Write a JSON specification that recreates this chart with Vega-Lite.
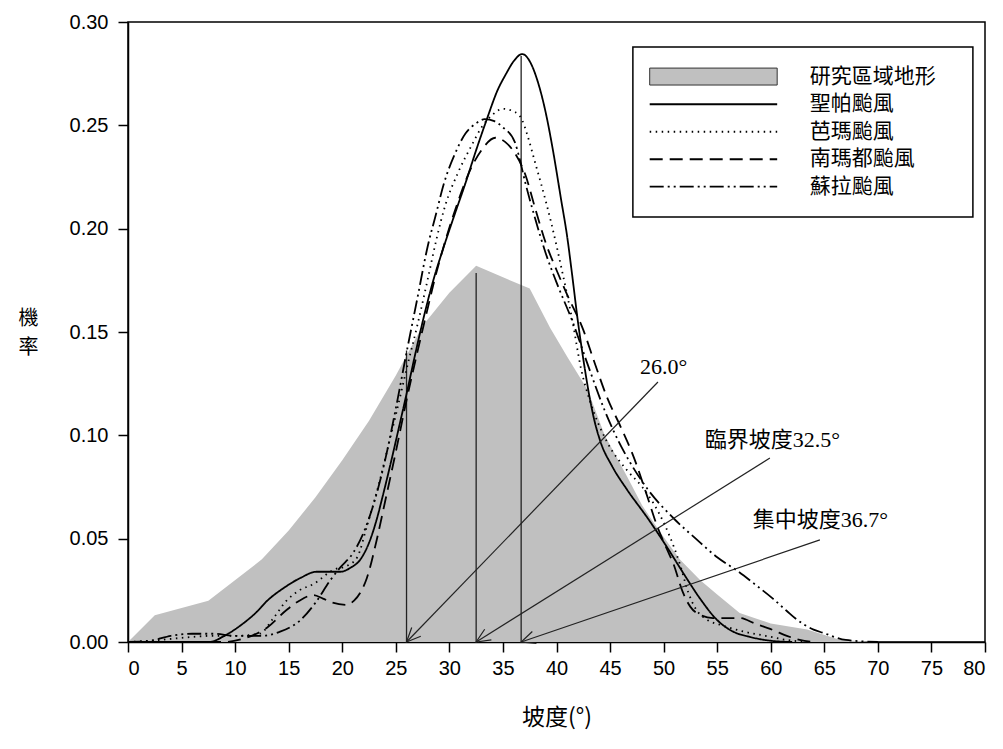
{
  "$schema": "https://vega.github.io/schema/vega-lite/v6.json",
  "width": 857,
  "height": 620,
  "autosize": {"type": "none"},
  "padding": {"left": 128, "top": 22, "right": 18, "bottom": 107},
  "background": "white",
  "config": {
    "view": {"stroke": "black", "strokeWidth": 1.5},
    "axis": {
      "domainColor": "black", "domainWidth": 1.5, "tickColor": "black", "tickWidth": 1.5,
      "tickSize": 10, "labelColor": "black", "labelFont": "Liberation Sans", "labelFontSize": 20,
      "titleColor": "black", "titleFont": "Noto Sans CJK TC", "titleFontWeight": "normal", "grid": false
    }
  },
  "datasets": {
    "terrain": [
      {"x": 0, "y": 0}, {"x": 2.5, "y": 0.013}, {"x": 7.5, "y": 0.020}, {"x": 12.5, "y": 0.040},
      {"x": 15, "y": 0.054}, {"x": 17.5, "y": 0.070}, {"x": 20, "y": 0.088}, {"x": 22.5, "y": 0.107},
      {"x": 25, "y": 0.129}, {"x": 27.5, "y": 0.153}, {"x": 30, "y": 0.169}, {"x": 32.5, "y": 0.182},
      {"x": 37.5, "y": 0.171}, {"x": 39.4, "y": 0.152}, {"x": 41, "y": 0.138}, {"x": 42.9, "y": 0.122},
      {"x": 44.5, "y": 0.100}, {"x": 46.6, "y": 0.080}, {"x": 48, "y": 0.066}, {"x": 49.7, "y": 0.053},
      {"x": 51.5, "y": 0.040}, {"x": 53.4, "y": 0.030}, {"x": 55, "y": 0.023}, {"x": 57.1, "y": 0.014},
      {"x": 60, "y": 0.009}, {"x": 63.4, "y": 0.006}, {"x": 66.5, "y": 0.001}, {"x": 70, "y": 0}, {"x": 80, "y": 0}
    ],
    "curves": [
      {"s": "聖帕颱風", "x": 0, "y": 0}, {"s": "聖帕颱風", "x": 5, "y": 0}, {"s": "聖帕颱風", "x": 7.6, "y": 0},
      {"s": "聖帕颱風", "x": 9, "y": 0.003}, {"s": "聖帕颱風", "x": 10.5, "y": 0.008}, {"s": "聖帕颱風", "x": 12, "y": 0.0145},
      {"s": "聖帕颱風", "x": 13, "y": 0.020}, {"s": "聖帕颱風", "x": 14.5, "y": 0.026}, {"s": "聖帕颱風", "x": 16.1, "y": 0.031},
      {"s": "聖帕颱風", "x": 17.6, "y": 0.034}, {"s": "聖帕颱風", "x": 19.8, "y": 0.034}, {"s": "聖帕颱風", "x": 20.8, "y": 0.036},
      {"s": "聖帕颱風", "x": 21.7, "y": 0.040}, {"s": "聖帕颱風", "x": 22.5, "y": 0.048}, {"s": "聖帕颱風", "x": 23.2, "y": 0.059},
      {"s": "聖帕颱風", "x": 23.7, "y": 0.069}, {"s": "聖帕颱風", "x": 24.5, "y": 0.086}, {"s": "聖帕颱風", "x": 25.3, "y": 0.104},
      {"s": "聖帕颱風", "x": 26, "y": 0.120}, {"s": "聖帕颱風", "x": 26.8, "y": 0.139}, {"s": "聖帕颱風", "x": 27.6, "y": 0.157},
      {"s": "聖帕颱風", "x": 28.5, "y": 0.175}, {"s": "聖帕颱風", "x": 29.4, "y": 0.190}, {"s": "聖帕颱風", "x": 30.5, "y": 0.207},
      {"s": "聖帕颱風", "x": 31.5, "y": 0.222}, {"s": "聖帕颱風", "x": 32.5, "y": 0.238}, {"s": "聖帕颱風", "x": 33.5, "y": 0.253},
      {"s": "聖帕颱風", "x": 34.5, "y": 0.267}, {"s": "聖帕颱風", "x": 35.3, "y": 0.275}, {"s": "聖帕颱風", "x": 36, "y": 0.281},
      {"s": "聖帕颱風", "x": 36.8, "y": 0.2845}, {"s": "聖帕颱風", "x": 37.5, "y": 0.281}, {"s": "聖帕颱風", "x": 38.2, "y": 0.272},
      {"s": "聖帕颱風", "x": 39, "y": 0.256}, {"s": "聖帕颱風", "x": 39.7, "y": 0.237}, {"s": "聖帕颱風", "x": 40.4, "y": 0.215},
      {"s": "聖帕颱風", "x": 41, "y": 0.196}, {"s": "聖帕颱風", "x": 41.5, "y": 0.176}, {"s": "聖帕颱風", "x": 42, "y": 0.155},
      {"s": "聖帕颱風", "x": 42.5, "y": 0.137}, {"s": "聖帕颱風", "x": 43, "y": 0.121}, {"s": "聖帕颱風", "x": 43.5, "y": 0.108},
      {"s": "聖帕颱風", "x": 44.1, "y": 0.097}, {"s": "聖帕颱風", "x": 45.2, "y": 0.085}, {"s": "聖帕颱風", "x": 46.6, "y": 0.0736},
      {"s": "聖帕颱風", "x": 48.5, "y": 0.060}, {"s": "聖帕颱風", "x": 50.3, "y": 0.046}, {"s": "聖帕颱風", "x": 52, "y": 0.032},
      {"s": "聖帕颱風", "x": 53.4, "y": 0.021}, {"s": "聖帕颱風", "x": 55, "y": 0.0106}, {"s": "聖帕颱風", "x": 56.5, "y": 0.005},
      {"s": "聖帕颱風", "x": 58.1, "y": 0.0024}, {"s": "聖帕颱風", "x": 60, "y": 0.0006}, {"s": "聖帕颱風", "x": 62, "y": 0},

      {"s": "芭瑪颱風", "x": 0, "y": 0}, {"s": "芭瑪颱風", "x": 3, "y": 0.001}, {"s": "芭瑪颱風", "x": 5, "y": 0.002},
      {"s": "芭瑪颱風", "x": 8, "y": 0.003}, {"s": "芭瑪颱風", "x": 10, "y": 0.003}, {"s": "芭瑪颱風", "x": 12.3, "y": 0.004},
      {"s": "芭瑪颱風", "x": 13.5, "y": 0.011}, {"s": "芭瑪颱風", "x": 14.8, "y": 0.020}, {"s": "芭瑪颱風", "x": 16, "y": 0.025},
      {"s": "芭瑪颱風", "x": 17.3, "y": 0.028}, {"s": "芭瑪颱風", "x": 19.2, "y": 0.035}, {"s": "芭瑪颱風", "x": 20.5, "y": 0.037},
      {"s": "芭瑪颱風", "x": 21.4, "y": 0.041}, {"s": "芭瑪颱風", "x": 22.3, "y": 0.056}, {"s": "芭瑪颱風", "x": 23.5, "y": 0.078},
      {"s": "芭瑪颱風", "x": 24.3, "y": 0.095}, {"s": "芭瑪颱風", "x": 25.1, "y": 0.112}, {"s": "芭瑪颱風", "x": 26, "y": 0.132},
      {"s": "芭瑪颱風", "x": 27, "y": 0.153}, {"s": "芭瑪颱風", "x": 28, "y": 0.176}, {"s": "芭瑪颱風", "x": 28.8, "y": 0.195},
      {"s": "芭瑪颱風", "x": 29.6, "y": 0.211}, {"s": "芭瑪颱風", "x": 30.8, "y": 0.227}, {"s": "芭瑪颱風", "x": 32.1, "y": 0.2405},
      {"s": "芭瑪颱風", "x": 33, "y": 0.249}, {"s": "芭瑪颱風", "x": 34, "y": 0.255}, {"s": "芭瑪颱風", "x": 35, "y": 0.258},
      {"s": "芭瑪颱風", "x": 36.1, "y": 0.2565}, {"s": "芭瑪颱風", "x": 36.8, "y": 0.2525}, {"s": "芭瑪颱風", "x": 37.3, "y": 0.245},
      {"s": "芭瑪颱風", "x": 38, "y": 0.232}, {"s": "芭瑪颱風", "x": 38.6, "y": 0.221}, {"s": "芭瑪颱風", "x": 39.5, "y": 0.203},
      {"s": "芭瑪颱風", "x": 40.5, "y": 0.180}, {"s": "芭瑪颱風", "x": 41.5, "y": 0.155}, {"s": "芭瑪颱風", "x": 42.3, "y": 0.132},
      {"s": "芭瑪颱風", "x": 43.1, "y": 0.117}, {"s": "芭瑪颱風", "x": 44.7, "y": 0.097}, {"s": "芭瑪颱風", "x": 46.6, "y": 0.083},
      {"s": "芭瑪颱風", "x": 48, "y": 0.075}, {"s": "芭瑪颱風", "x": 49.5, "y": 0.063}, {"s": "芭瑪颱風", "x": 50.5, "y": 0.052},
      {"s": "芭瑪颱風", "x": 51.5, "y": 0.038}, {"s": "芭瑪颱風", "x": 52.3, "y": 0.024}, {"s": "芭瑪颱風", "x": 53, "y": 0.016},
      {"s": "芭瑪颱風", "x": 54, "y": 0.011}, {"s": "芭瑪颱風", "x": 55.5, "y": 0.008}, {"s": "芭瑪颱風", "x": 57.5, "y": 0.005},
      {"s": "芭瑪颱風", "x": 59.5, "y": 0.003}, {"s": "芭瑪颱風", "x": 61.5, "y": 0.001}, {"s": "芭瑪颱風", "x": 63.5, "y": 0},

      {"s": "南瑪都颱風", "x": 0, "y": 0}, {"s": "南瑪都颱風", "x": 9, "y": 0}, {"s": "南瑪都颱風", "x": 11, "y": 0.002},
      {"s": "南瑪都颱風", "x": 13, "y": 0.007}, {"s": "南瑪都颱風", "x": 14.8, "y": 0.0155}, {"s": "南瑪都颱風", "x": 16, "y": 0.020},
      {"s": "南瑪都颱風", "x": 17.3, "y": 0.0227}, {"s": "南瑪都颱風", "x": 18.2, "y": 0.021}, {"s": "南瑪都颱風", "x": 19.1, "y": 0.019},
      {"s": "南瑪都颱風", "x": 20.4, "y": 0.018}, {"s": "南瑪都颱風", "x": 21.1, "y": 0.020}, {"s": "南瑪都颱風", "x": 21.7, "y": 0.024},
      {"s": "南瑪都颱風", "x": 22.3, "y": 0.031}, {"s": "南瑪都颱風", "x": 23.2, "y": 0.049}, {"s": "南瑪都颱風", "x": 24, "y": 0.068},
      {"s": "南瑪都颱風", "x": 25, "y": 0.092}, {"s": "南瑪都颱風", "x": 26, "y": 0.117}, {"s": "南瑪都颱風", "x": 27, "y": 0.140},
      {"s": "南瑪都颱風", "x": 28, "y": 0.162}, {"s": "南瑪都颱風", "x": 28.6, "y": 0.175}, {"s": "南瑪都颱風", "x": 29.5, "y": 0.192},
      {"s": "南瑪都颱風", "x": 30.8, "y": 0.213}, {"s": "南瑪都颱風", "x": 32, "y": 0.229}, {"s": "南瑪都颱風", "x": 33, "y": 0.238},
      {"s": "南瑪都颱風", "x": 34.3, "y": 0.244}, {"s": "南瑪都颱風", "x": 35.2, "y": 0.242}, {"s": "南瑪都颱風", "x": 36.1, "y": 0.2366},
      {"s": "南瑪都颱風", "x": 37.1, "y": 0.226}, {"s": "南瑪都颱風", "x": 38, "y": 0.210}, {"s": "南瑪都颱風", "x": 39, "y": 0.193},
      {"s": "南瑪都颱風", "x": 40, "y": 0.180}, {"s": "南瑪都颱風", "x": 41, "y": 0.168}, {"s": "南瑪都颱風", "x": 42.5, "y": 0.151},
      {"s": "南瑪都颱風", "x": 43.5, "y": 0.136}, {"s": "南瑪都颱風", "x": 44.7, "y": 0.1186}, {"s": "南瑪都颱風", "x": 46, "y": 0.104},
      {"s": "南瑪都颱風", "x": 47.2, "y": 0.0896}, {"s": "南瑪都颱風", "x": 48.5, "y": 0.070}, {"s": "南瑪都颱風", "x": 49.4, "y": 0.056},
      {"s": "南瑪都颱風", "x": 50.3, "y": 0.045}, {"s": "南瑪都颱風", "x": 50.9, "y": 0.038}, {"s": "南瑪都颱風", "x": 51.8, "y": 0.024},
      {"s": "南瑪都颱風", "x": 52.5, "y": 0.017}, {"s": "南瑪都颱風", "x": 53.1, "y": 0.014}, {"s": "南瑪都颱風", "x": 54.6, "y": 0.0116},
      {"s": "南瑪都颱風", "x": 57.1, "y": 0.0116}, {"s": "南瑪都颱風", "x": 58.5, "y": 0.009}, {"s": "南瑪都颱風", "x": 60.2, "y": 0.0058},
      {"s": "南瑪都颱風", "x": 61.5, "y": 0.003}, {"s": "南瑪都颱風", "x": 62.7, "y": 0.001}, {"s": "南瑪都颱風", "x": 64, "y": 0},

      {"s": "蘇拉颱風", "x": 0, "y": 0}, {"s": "蘇拉颱風", "x": 2, "y": 0.0005}, {"s": "蘇拉颱風", "x": 4, "y": 0.003},
      {"s": "蘇拉颱風", "x": 6, "y": 0.004}, {"s": "蘇拉颱風", "x": 8, "y": 0.004}, {"s": "蘇拉颱風", "x": 10, "y": 0.003},
      {"s": "蘇拉颱風", "x": 12.5, "y": 0.003}, {"s": "蘇拉颱風", "x": 14.2, "y": 0.005}, {"s": "蘇拉颱風", "x": 16.1, "y": 0.0106},
      {"s": "蘇拉颱風", "x": 17.5, "y": 0.019}, {"s": "蘇拉颱風", "x": 18.9, "y": 0.030}, {"s": "蘇拉颱風", "x": 19.8, "y": 0.036},
      {"s": "蘇拉颱風", "x": 21, "y": 0.043}, {"s": "蘇拉颱風", "x": 22, "y": 0.053}, {"s": "蘇拉颱風", "x": 23, "y": 0.068},
      {"s": "蘇拉颱風", "x": 24, "y": 0.088}, {"s": "蘇拉颱風", "x": 25, "y": 0.113}, {"s": "蘇拉颱風", "x": 26, "y": 0.140},
      {"s": "蘇拉颱風", "x": 27, "y": 0.166}, {"s": "蘇拉颱風", "x": 28, "y": 0.192}, {"s": "蘇拉颱風", "x": 28.7, "y": 0.206},
      {"s": "蘇拉颱風", "x": 29.5, "y": 0.222}, {"s": "蘇拉颱風", "x": 30.5, "y": 0.236}, {"s": "蘇拉颱風", "x": 31.5, "y": 0.246},
      {"s": "蘇拉颱風", "x": 32.5, "y": 0.251}, {"s": "蘇拉颱風", "x": 33.3, "y": 0.253}, {"s": "蘇拉颱風", "x": 34.2, "y": 0.252},
      {"s": "蘇拉颱風", "x": 35, "y": 0.249}, {"s": "蘇拉颱風", "x": 36.1, "y": 0.242}, {"s": "蘇拉颱風", "x": 36.5, "y": 0.235},
      {"s": "蘇拉颱風", "x": 37.1, "y": 0.222}, {"s": "蘇拉颱風", "x": 38, "y": 0.205}, {"s": "蘇拉颱風", "x": 39, "y": 0.188},
      {"s": "蘇拉颱風", "x": 40, "y": 0.174}, {"s": "蘇拉颱風", "x": 41.5, "y": 0.155}, {"s": "蘇拉颱風", "x": 43, "y": 0.133},
      {"s": "蘇拉颱風", "x": 44.5, "y": 0.112}, {"s": "蘇拉颱風", "x": 46, "y": 0.095}, {"s": "蘇拉颱風", "x": 46.9, "y": 0.0866},
      {"s": "蘇拉颱風", "x": 48.5, "y": 0.074}, {"s": "蘇拉颱風", "x": 50.9, "y": 0.060}, {"s": "蘇拉颱風", "x": 53, "y": 0.050},
      {"s": "蘇拉颱風", "x": 55, "y": 0.041}, {"s": "蘇拉颱風", "x": 57, "y": 0.034}, {"s": "蘇拉颱風", "x": 58.5, "y": 0.028},
      {"s": "蘇拉颱風", "x": 60.2, "y": 0.021}, {"s": "蘇拉颱風", "x": 61.5, "y": 0.015}, {"s": "蘇拉颱風", "x": 62.4, "y": 0.011},
      {"s": "蘇拉颱風", "x": 64, "y": 0.006}, {"s": "蘇拉颱風", "x": 64.9, "y": 0.0044}, {"s": "蘇拉颱風", "x": 67, "y": 0.001},
      {"s": "蘇拉颱風", "x": 70, "y": 0}
    ],
    "vlines": [
      {"x": 26.0, "y": 0, "y2": 0.141},
      {"x": 32.5, "y": 0, "y2": 0.1785},
      {"x": 36.7, "y": 0, "y2": 0.2835}
    ],
    "arrows": [
      {"x": 49.47, "y": 0.1258, "x2": 26.0, "y2": 0.0},
      {"x": 59.92, "y": 0.0890, "x2": 32.5, "y2": 0.0},
      {"x": 64.59, "y": 0.0494, "x2": 36.7, "y2": 0.0}
    ],
    "notes": [
      {"x": 47.8, "y": 0.1331, "t": "26.0°"},
      {"x": 53.85, "y": 0.0977, "t": "臨界坡度32.5°"},
      {"x": 58.33, "y": 0.059, "t": "集中坡度36.7°"}
    ],
    "legendBox": [{"x": 47.13, "x2": 78.87, "y": 0.2879, "y2": 0.2056}],
    "legendRect": [{"x": 48.7, "x2": 60.6, "y": 0.2777, "y2": 0.2695}],
    "legendLines": [
      {"s": "聖帕颱風", "x": 48.7, "x2": 60.6, "y": 0.2602},
      {"s": "芭瑪颱風", "x": 48.7, "x2": 60.6, "y": 0.2469},
      {"s": "南瑪都颱風", "x": 48.7, "x2": 60.6, "y": 0.2336},
      {"s": "蘇拉颱風", "x": 48.7, "x2": 60.6, "y": 0.2203}
    ],
    "legendText": [
      {"t": "研究區域地形", "x": 63.65, "y": 0.2735},
      {"t": "聖帕颱風", "x": 63.65, "y": 0.2602},
      {"t": "芭瑪颱風", "x": 63.65, "y": 0.2469},
      {"t": "南瑪都颱風", "x": 63.65, "y": 0.2336},
      {"t": "蘇拉颱風", "x": 63.65, "y": 0.2203}
    ]
  },
  "layer": [
    {
      "data": {"name": "terrain"},
      "mark": {"type": "area", "color": "#c0c0c0", "interpolate": "linear"},
      "encoding": {
        "x": {"field": "x", "type": "quantitative",
              "scale": {"domain": [0, 80], "nice": false, "zero": false},
              "axis": {"values": [0,5,10,15,20,25,30,35,40,45,50,55,60,65,70,75,80], "labelPadding": 6,
                       "title": "坡度(°)", "titleFontSize": 23, "titlePadding": 28}},
        "y": {"field": "y", "type": "quantitative",
              "scale": {"domain": [0, 0.30], "nice": false},
              "axis": {"values": [0, 0.05, 0.10, 0.15, 0.20, 0.25, 0.30], "format": ".2f", "labelPadding": 10,
                       "title": ["機", "率"], "titleFontSize": 20, "titleAngle": 0, "titleAlign": "center",
                       "titleBaseline": "middle", "titleX": -100, "titleY": 296, "titleLineHeight": 29}}
      }
    },
    {
      "data": {"name": "vlines"},
      "mark": {"type": "rule", "color": "#222222", "strokeWidth": 1.3},
      "encoding": {
        "x": {"field": "x", "type": "quantitative"},
        "y": {"field": "y", "type": "quantitative"},
        "y2": {"field": "y2"}
      }
    },
    {
      "data": {"name": "curves"},
      "mark": {"type": "line", "color": "black", "strokeWidth": 1.8, "interpolate": "monotone"},
      "encoding": {
        "x": {"field": "x", "type": "quantitative"},
        "y": {"field": "y", "type": "quantitative"},
        "detail": {"field": "s"},
        "strokeDash": {"field": "s", "type": "nominal", "legend": null,
          "scale": {"domain": ["聖帕颱風", "芭瑪颱風", "南瑪都颱風", "蘇拉颱風"],
                    "range": [[1, 0], [1.5, 4.5], [13, 7], [14, 4, 2, 4, 2, 4]]}}
      }
    },
    {
      "data": {"name": "arrows"},
      "mark": {"type": "rule", "color": "#222222", "strokeWidth": 1.2},
      "encoding": {
        "x": {"field": "x", "type": "quantitative"},
        "y": {"field": "y", "type": "quantitative"},
        "x2": {"field": "x2"},
        "y2": {"field": "y2"}
      }
    },
    {
      "data": {"values": [{"x": 26.0, "y": 0.0}]},
      "mark": {"type": "point", "shape": "M-0.45,1L0,0L0.45,1", "filled": false, "stroke": "#222222", "strokeWidth": 1.2, "opacity": 1, "size": 784, "angle": 224},
      "encoding": {
        "x": {"field": "x", "type": "quantitative"},
        "y": {"field": "y", "type": "quantitative"}
      }
    },
    {
      "data": {"values": [{"x": 32.5, "y": 0.0}]},
      "mark": {"type": "point", "shape": "M-0.45,1L0,0L0.45,1", "filled": false, "stroke": "#222222", "strokeWidth": 1.2, "opacity": 1, "size": 784, "angle": 238},
      "encoding": {
        "x": {"field": "x", "type": "quantitative"},
        "y": {"field": "y", "type": "quantitative"}
      }
    },
    {
      "data": {"values": [{"x": 36.7, "y": 0.0}]},
      "mark": {"type": "point", "shape": "M-0.45,1L0,0L0.45,1", "filled": false, "stroke": "#222222", "strokeWidth": 1.2, "opacity": 1, "size": 784, "angle": 251},
      "encoding": {
        "x": {"field": "x", "type": "quantitative"},
        "y": {"field": "y", "type": "quantitative"}
      }
    },
    {
      "data": {"name": "notes"},
      "mark": {"type": "text", "align": "left", "baseline": "middle", "font": "Liberation Serif, Noto Sans CJK TC", "fontSize": 22, "color": "black"},
      "encoding": {
        "x": {"field": "x", "type": "quantitative"},
        "y": {"field": "y", "type": "quantitative"},
        "text": {"field": "t"}
      }
    },
    {
      "data": {"name": "legendBox"},
      "mark": {"type": "rect", "fill": "white", "stroke": "black", "strokeWidth": 1.5},
      "encoding": {
        "x": {"field": "x", "type": "quantitative"},
        "x2": {"field": "x2"},
        "y": {"field": "y", "type": "quantitative"},
        "y2": {"field": "y2"}
      }
    },
    {
      "data": {"name": "legendRect"},
      "mark": {"type": "rect", "fill": "#c0c0c0", "stroke": "#333333", "strokeWidth": 1},
      "encoding": {
        "x": {"field": "x", "type": "quantitative"},
        "x2": {"field": "x2"},
        "y": {"field": "y", "type": "quantitative"},
        "y2": {"field": "y2"}
      }
    },
    {
      "data": {"name": "legendLines"},
      "mark": {"type": "rule", "color": "black", "strokeWidth": 1.8},
      "encoding": {
        "x": {"field": "x", "type": "quantitative"},
        "x2": {"field": "x2"},
        "y": {"field": "y", "type": "quantitative"},
        "strokeDash": {"field": "s", "type": "nominal", "legend": null}
      }
    },
    {
      "data": {"name": "legendText"},
      "mark": {"type": "text", "align": "left", "baseline": "middle", "font": "Noto Sans CJK TC", "fontSize": 21, "color": "black"},
      "encoding": {
        "x": {"field": "x", "type": "quantitative"},
        "y": {"field": "y", "type": "quantitative"},
        "text": {"field": "t"}
      }
    }
  ]
}
